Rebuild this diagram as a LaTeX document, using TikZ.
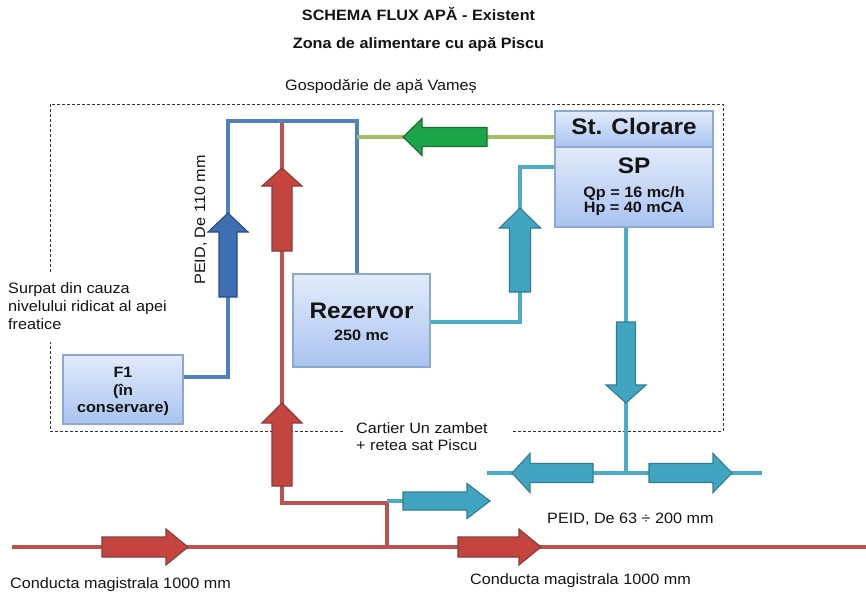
\documentclass[tikz,border=0pt]{standalone}
\usepackage{fontspec}
\setmainfont[FakeStretch=1.08]{Liberation Sans}

\definecolor{boxtop}{HTML}{E2EBFA}
\definecolor{boxbot}{HTML}{A9C3F0}
\definecolor{boxedge}{HTML}{8FA8D2}
\definecolor{pipeblue}{HTML}{4F81BD}
\definecolor{arrblue}{HTML}{3E6FB2}
\definecolor{arrblueedge}{HTML}{2B4D7E}
\definecolor{pipered}{HTML}{C0504D}
\definecolor{arrred}{HTML}{C4443F}
\definecolor{arrrededge}{HTML}{8B3A38}
\definecolor{pipeteal}{HTML}{4BACC6}
\definecolor{arrteal}{HTML}{41A5C1}
\definecolor{arrtealedge}{HTML}{2E7D92}
\definecolor{pipegreen}{HTML}{A2C15C}
\definecolor{arrgreen}{HTML}{1AA548}
\definecolor{arrgreenedge}{HTML}{1D6B32}
\definecolor{ink}{HTML}{141414}

% block arrow: style, tail point, direction angle, length, head length, shaft half width, head half width
\newcommand\flowarrow[7]{%
  \begin{scope}[shift={#2}, rotate=#3]
    \draw[#1] (0,#6) -- ({#4-#5},#6) -- ({#4-#5},#7) -- (#4,0)
      -- ({#4-#5},-#7) -- ({#4-#5},-#6) -- (0,-#6) -- cycle;
  \end{scope}}

\begin{document}
\begin{tikzpicture}[x=1pt,y=-1pt,
  txt/.style={font=\fontsize{15}{18}\selectfont, text=ink, inner sep=0pt},
  btxt/.style={font=\fontsize{15}{18}\selectfont\bfseries, text=ink, inner sep=0pt},
  bigtxt/.style={font=\fontsize{22.5}{26}\selectfont\bfseries, text=ink, inner sep=0pt},
  unit/.style={draw=boxedge, line width=1.4pt, top color=boxtop, bottom color=boxbot, inner sep=0pt},
  frame/.style={draw=black!80, line width=0.9pt, dash pattern=on 3pt off 2pt},
  bluepipe/.style={draw=pipeblue, line width=3.3pt},
  redpipe/.style={draw=pipered, line width=3.3pt},
  mainpipe/.style={draw=pipered, line width=4pt},
  tealpipe/.style={draw=pipeteal, line width=3.3pt},
  greenpipe/.style={draw=pipegreen, line width=4.5pt},
  bluearrow/.style={fill=arrblue, draw=arrblueedge, line width=1.1pt, line join=miter},
  redarrow/.style={fill=arrred, draw=arrrededge, line width=1.1pt, line join=miter},
  tealarrow/.style={fill=arrteal, draw=arrtealedge, line width=1.1pt, line join=miter},
  greenarrow/.style={fill=arrgreen, draw=arrgreenedge, line width=1.1pt, line join=miter}]

\useasboundingbox (0,0) rectangle (866,596);
\fill[white] (0,0) rectangle (866,596);

% titles
\node[btxt, anchor=base] (title) at (418.5,21) {SCHEMA FLUX APĂ - Existent};
\node[btxt, anchor=base] (subtitle) at (418.5,49) {Zona de alimentare cu apă Piscu};
\node[txt, anchor=base] (site) at (381,90.5) {Gospodărie de apă Vameș};

% boundary of the water works
\draw[frame] (50,272) -- (50,104) -- (723,104) -- (723,431) -- (512,431);
\draw[frame] (343,431) -- (50,431) -- (50,342);

% units
\node[unit, minimum width=120pt, minimum height=69pt] (f1) at (123,389.5) {};
\node[unit, minimum width=137pt, minimum height=93pt] (rez) at (361.5,320.5) {};
\node[unit, minimum width=158pt, minimum height=80pt] (sp) at (634,187) {};
\node[unit, minimum width=158pt, minimum height=36pt] (clor) at (634,129) {};

% junction points
\coordinate (jtop) at (282,121);
\coordinate (jmain) at (387,547);
\coordinate (mainW) at (12,547);
\coordinate (mainE) at (866,547);
\coordinate (distW) at (487,473);
\coordinate (distE) at (762,473);
\coordinate (jdist) at (626,473);

% pipes
\draw[mainpipe] (mainW) -- (mainE);
\draw[redpipe] (jtop) |- (387,503) -- (jmain);
\draw[tealpipe] (387,501) -- (403,501);
\draw[bluepipe] ([yshift=12.5pt]f1.east) -| (228,121) -| ([xshift=-4.5pt]rez.north);
\draw[greenpipe] (357,137) -- ([yshift=-8pt]clor.west);
\draw[tealpipe] ([yshift=-1.5pt]rez.east) -| (520,167) -- ([yshift=20pt]sp.west);
\draw[tealpipe] ([xshift=-8pt]sp.south) -- (jdist);
\draw[tealpipe] (distW) -- (distE);

% redraw units above the pipes
\node[unit, minimum width=120pt, minimum height=69pt] at (f1) {};
\node[unit, minimum width=137pt, minimum height=93pt] at (rez) {};
\node[unit, minimum width=158pt, minimum height=80pt] at (sp) {};
\node[unit, minimum width=158pt, minimum height=36pt] at (clor) {};

% flow arrows
\flowarrow{bluearrow}{(228,297)}{90}{84}{19}{9}{20}
\flowarrow{redarrow}{(282,251)}{90}{83}{18}{10}{20}
\flowarrow{redarrow}{(282,486)}{90}{83}{20}{10}{20}
\flowarrow{tealarrow}{(520,292)}{90}{84}{20}{10.5}{20.5}
\flowarrow{greenarrow}{(487,137)}{180}{84}{19}{9.5}{18.5}
\flowarrow{tealarrow}{(626,322)}{-90}{81}{18}{9.5}{20}
\flowarrow{tealarrow}{(593,473)}{180}{81}{18}{9.5}{19.5}
\flowarrow{tealarrow}{(649,473)}{0}{83}{19}{9.5}{19.5}
\flowarrow{tealarrow}{(403,501)}{0}{87}{23}{9}{17.5}
\flowarrow{redarrow}{(102,547)}{0}{86}{22}{10}{18}
\flowarrow{redarrow}{(458,547)}{0}{83}{22}{10}{18}

% unit labels
\node[bigtxt, anchor=base] (clorA) at (634,135) {St. Clorare};
\node[bigtxt, anchor=base] (spA) at (634,173) {SP};
\node[btxt, anchor=base] (spB) at (634,197) {Qp = 16 mc/h};
\node[btxt, anchor=base] (spC) at (634,212) {Hp = 40 mCA};
\node[bigtxt, anchor=base] (rezA) at (361.5,318) {Rezervor};
\node[btxt, anchor=base] (rezB) at (361.5,340) {250 mc};
\node[btxt, anchor=base] (f1A) at (123,377) {F1};
\node[btxt, anchor=base] (f1B) at (123,395) {(în};
\node[btxt, anchor=base] (f1C) at (123,412) {conservare)};

% annotations
\node[txt, anchor=base west, rotate=90] (peid110) at (205,285) {PEID, De 110 mm};
\node[txt, anchor=base west] (surpA) at (8,293) {Surpat din cauza};
\node[txt, anchor=base west] (surpB) at (8,311) {nivelului ridicat al apei};
\node[txt, anchor=base west] (surpC) at (8,329) {freatice};
\node[txt, anchor=base west] (cartA) at (356,433) {Cartier Un zambet};
\node[txt, anchor=base west] (cartB) at (356,450.5) {+ retea sat Piscu};
\node[txt, anchor=base west] (peid63) at (547,523) {PEID, De 63 ÷ 200 mm};
\node[txt, anchor=base west] (magA) at (10,588) {Conducta magistrala 1000 mm};
\node[txt, anchor=base west] (magB) at (470,584) {Conducta magistrala 1000 mm};

\end{tikzpicture}
\end{document}
